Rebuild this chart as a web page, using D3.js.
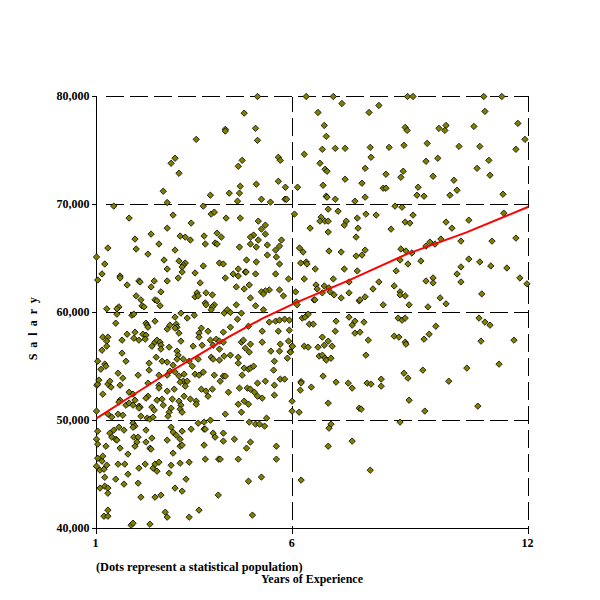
<!DOCTYPE html>
<html>
<head>
<meta charset="utf-8">
<script src="https://d3js.org/d3.v7.min.js"></script>
<style>
  body { margin: 0; background: #fff; }
  text { font-family: "Liberation Serif", serif; font-weight: bold; fill: #000; }
</style>
</head>
<body>
<svg id="chart" width="600" height="600"></svg>
<script>
// ---------------------------//
//      DATA                  //
// ---------------------------//

// [years of experience, salary]
const dotsUpperLeft = [
  [5.10,80000],[4.76,78460],[5.05,77050],[5.10,75940],[4.28,76960],[4.28,76800],[3.54,76030],[3.00,74280],[2.90,73820],[3.10,72890],
  [2.70,71230],[2.80,70180],[1.44,69850],[1.83,68740],[2.95,69020],[3.41,68280],[2.80,67810],[3.72,69850],[3.90,70860],[3.92,69110],
  [4.00,69290],[4.30,68740],[4.66,68740],[4.38,71050],[4.64,71050],[4.66,71690],[4.61,73540],[4.71,74090],[5.07,71880],[5.63,74370],
  [5.68,74090],[5.63,72150],[5.81,71600],[6.12,71600],[4.59,70310],[5.20,70490],[5.43,70220],[5.80,70490],[5.84,70490],[6.04,69110],
  [5.12,68460],[5.30,68090],[5.20,67720],[5.30,67260],[5.00,67170],[4.92,66980],[5.12,66710],[5.71,66710],[4.92,66340],[5.07,66060],
  [4.64,66060],[5.35,66250],[5.66,66150],[5.56,65780],[6.17,65970],[5.35,65320],[5.58,65140],[4.82,64860],[5.07,64680],[5.66,64490],
  [6.20,64580],[5.56,63570],[5.05,63570],[4.61,64030],[4.79,63750],[4.81,63750],[4.48,63570],[4.61,63380],[4.28,63200],[5.89,63110],
  [4.56,62370],[4.76,62180],[4.89,62550],[4.92,61350],[5.66,62090],[5.40,62090],[5.30,62000],[5.20,61910],[5.25,61720],[5.76,61540],
  [6.07,61910],[6.09,60980],[5.05,60620],[5.25,60250],[4.56,60710],[4.33,60250],[3.74,67080],[3.77,66340],[4.07,67350],[4.18,66980],
  [4.02,66430],[4.07,66340],[3.13,67080],[3.26,66980],[3.39,66710],[2.39,67260],[2.59,66340],[1.98,66800],[2.01,65880],[1.29,65970],
  [1.00,65140],[1.21,64490],[1.14,63570],[1.03,63010],[1.60,63380],[1.60,63200],[1.78,62550],[2.08,62920],[2.11,62830],[2.47,62920],
  [2.39,62370],[2.64,61910],[2.01,61540],[2.13,61170],[2.49,61170],[2.54,61080],[2.62,60620],[2.16,60620],[2.21,60520],[1.26,60340],
  [1.57,60520],[1.52,60340],[2.31,65410],[3.00,65780],[2.72,64860],[2.80,64030],[2.80,62920],[3.10,64770],[3.26,64580],[3.21,64400],
  [3.18,64210],[3.18,63750],[3.08,63200],[3.51,63660],[3.72,64310],[3.64,62740],[3.56,61820],[3.51,61450],[3.59,61540],[3.79,61820],
  [3.95,61630],[4.13,64580],[4.23,64490],[3.77,60890],[3.79,60710],[4.00,60710],[3.95,60520],[3.92,60250]
];

const dotsUpperRight = [
  [6.34,80000],[7.03,80000],[8.92,80000],[9.06,80000],[10.86,80000],[11.32,80000],[7.25,79350],[8.19,79170],[6.64,78520],[7.94,78520],
  [10.89,78620],[11.73,77510],[6.80,77320],[8.86,77140],[8.91,76860],[9.72,77050],[9.90,77320],[9.87,76860],[10.61,77230],[6.85,76310],
  [11.91,76030],[6.29,74650],[6.75,75110],[7.08,75200],[7.33,75200],[7.97,75290],[8.45,75290],[8.83,75480],[9.42,75660],[10.23,75380],
  [10.76,75380],[11.68,75110],[7.99,74370],[9.69,74280],[9.39,74000],[10.99,74090],[6.69,73820],[6.82,73260],[6.87,73080],[7.84,73350],
  [8.81,73080],[10.69,73350],[8.37,72800],[8.75,72520],[9.57,72610],[11.02,72710],[7.33,72340],[10.10,72250],[7.76,71970],[6.77,71780],
  [8.30,71510],[8.37,71510],[9.19,71600],[10.18,71320],[6.85,70770],[6.87,70680],[7.08,70490],[7.58,70310],[7.84,70680],[9.16,70860],
  [9.34,70770],[10.00,70860],[11.35,70950],[8.60,69850],[8.78,69750],[6.90,69570],[7.15,69380],[7.86,69110],[8.12,69020],[9.06,69020],
  [11.37,69200],[6.72,68830],[6.69,68460],[6.82,68460],[6.90,68460],[7.36,68460],[7.31,68090],[7.64,68740],[8.86,68370],[8.98,68280],
  [9.90,68370],[10.48,68550],[6.44,67810],[7.66,67810],[8.50,67720],[10.05,67810],[6.90,67450],[7.61,66980],[11.68,66890],[10.28,66610],
  [11.07,66610],[9.49,66520],[9.39,66150],[9.62,66340],[9.77,66800],[6.26,65600],[6.92,65690],[7.23,65600],[7.84,65780],[7.76,65320],
  [7.61,65230],[8.75,65880],[8.88,65690],[9.03,65510],[8.73,64860],[9.26,64770],[10.48,64950],[10.76,64680],[11.04,64310],[11.45,64120],
  [6.34,64680],[6.36,64490],[6.57,64030],[7.31,64030],[7.64,63850],[8.63,63850],[8.93,64490],[10.28,64220],[10.18,63570],[6.29,63110],
  [7.03,63110],[7.43,62830],[9.39,62920],[9.57,63200],[9.57,62740],[10.28,62830],[11.78,63200],[11.96,62650],[8.19,62830],[6.59,62550],
  [6.62,62180],[6.80,62460],[6.92,62280],[8.58,62460],[8.04,62180],[6.75,61820],[6.95,61910],[7.05,61630],[7.43,61820],[8.73,61910],
  [8.73,61630],[8.86,61540],[10.81,61720],[7.23,61350],[7.84,61450],[9.75,61350],[6.54,61170],[6.56,61170],[7.69,61080],[7.71,61170],
  [9.90,60800],[8.30,60710],[8.96,60710],[9.44,60520],[6.11,60710]
];

const dotsLowerRight = [
  [6.24,59480],[6.31,59570],[6.39,59850],[6.42,58920],[6.52,58920],[7.10,59200],[7.43,59570],[7.58,59200],[7.51,58830],[7.81,59110],
  [8.68,59480],[8.78,59290],[8.86,59480],[9.64,58730],[10.74,59480],[10.89,59110],[11.02,58830],[7.08,58270],[7.58,58090],[7.71,58180],
  [6.75,57720],[8.58,57810],[8.70,57720],[9.47,57990],[9.34,57530],[7.92,57440],[10.79,57350],[11.63,57440],[8.86,57250],[8.88,57070],
  [6.90,57350],[6.80,56970],[6.64,56790],[7.00,56880],[6.29,56880],[6.39,56790],[5.98,56880],[5.93,56360],[7.86,56050],[11.25,55220],
  [6.67,55960],[6.75,56050],[6.82,55770],[6.85,55590],[6.97,55770],[10.43,54850],[9.31,54660],[8.83,54380],[8.93,53920],[6.77,54110],
  [9.97,53640],[8.25,53830],[8.25,53180],[6.21,53600],[6.21,53480],[6.19,52810],[6.47,53090],[7.10,53550],[7.41,53460],[7.51,53000],
  [7.89,53460],[7.99,53370],[8.96,51880],[6.90,51610],[10.71,51330],[5.98,51790],[5.98,50870],[6.16,50770],[7.69,51140],[7.74,51050],
  [9.36,50870],[8.73,49850],[6.97,49660],[6.92,49290],[7.51,48090],[6.90,47620],[7.97,45400],[6.21,44480]
];

const dotsLowerLeft = [
  [1.52,59850],[1.90,59750],[1.95,59850],[3.00,59570],[3.15,59940],[3.31,59480],[3.49,59750],[4.25,59940],[4.41,60000],[4.69,59940],
  [1.49,59010],[2.26,59010],[2.29,58830],[2.31,58640],[2.49,59200],[2.80,58460],[2.87,58830],[3.03,58920],[3.05,58640],[3.00,58550],
  [1.78,57990],[1.98,58180],[2.18,57990],[2.26,57900],[1.95,57620],[2.08,57440],[2.24,57530],[1.16,57720],[1.29,57720],[1.26,57350],
  [1.26,56880],[1.14,56510],[1.65,57440],[1.65,56240],[1.75,55490],[1.03,55490],[1.21,55220],[1.24,55030],[1.11,54750],[2.41,56880],
  [2.49,57250],[2.54,57440],[2.62,57250],[2.64,56970],[2.64,56610],[2.52,55860],[2.67,55490],[2.80,55400],[2.85,56790],[3.10,58090],
  [3.15,57350],[3.05,56420],[3.08,56050],[3.05,55680],[3.21,55680],[2.95,55120],[3.46,56880],[3.67,58550],[3.61,58090],[3.61,57720],
  [3.84,58270],[3.69,56970],[3.90,57440],[4.05,57530],[3.97,56970],[4.13,57350],[4.23,57250],[4.23,58180],[4.41,58640],[4.59,59380],
  [4.87,58730],[5.22,58270],[5.22,57250],[4.69,57250],[4.74,57440],[4.92,57070],[4.79,56700],[4.89,56330],[4.13,56610],[3.92,55860],
  [3.97,55680],[4.13,55590],[4.25,55960],[4.41,56050],[4.61,55860],[4.61,55310],[4.71,54200],[4.76,54850],[4.87,54750],[4.92,54850],
  [5.00,55030],[5.40,59110],[5.56,59200],[5.66,59290],[5.79,59380],[5.91,59290],[5.63,58270],[5.91,58360],[5.89,57350],[5.99,56880],
  [5.68,57070],[5.44,56420],[5.66,56420],[5.94,56330],[5.86,55770],[5.53,55490],[5.51,54660],[5.53,53270],[5.53,52350],[5.68,53830],
  [5.79,53830],[5.30,53640],[5.10,53460],[4.84,53000],[4.92,52900],[5.02,52620],[5.10,52250],[5.22,52070],[4.64,53000],[4.36,52620],
  [3.95,52900],[3.67,52900],[3.79,52720],[3.84,52250],[4.76,51790],[4.87,51510],[4.61,51510],[4.69,50770],[4.28,50590],[5.33,50220],
  [3.51,54290],[3.61,54200],[3.72,54480],[4.00,54200],[4.15,53640],[4.23,54110],[4.28,54110],[3.44,55030],[3.36,55490],[3.59,55680],
  [3.23,54290],[3.10,54110],[3.00,54480],[2.87,54570],[2.80,54200],[2.59,54200],[3.21,53640],[3.31,53640],[3.13,53550],[3.26,53180],
  [2.98,52900],[2.80,52720],[2.59,53270],[2.59,53000],[2.31,53460],[2.34,55310],[2.34,54660],[2.06,54200],[1.55,54380],[1.67,53920],
  [1.60,53270],[1.29,53370],[1.34,53640],[1.37,53090],[1.01,53270],[1.03,53370],[1.06,53740],[1.16,52440],[1.83,52620],[1.93,52440],
  [1.60,51880],[1.57,51700],[1.98,51880],[1.75,51420],[1.83,51610],[1.93,51420],[2.08,51330],[2.11,51240],[2.08,51150],[2.31,52250],
  [2.26,52070],[2.54,51880],[2.67,51980],[2.70,51420],[2.90,51140],[2.85,50770],[2.82,50400],[2.93,51980],[3.10,51790],[3.15,51420],
  [3.13,51050],[3.18,50770],[3.23,52250],[3.39,51980],[3.54,51790],[3.54,51510],[2.41,51240],[2.47,50960],[2.13,50400],[2.29,50220],
  [2.36,50130],[2.44,50310],[1.00,50870],[1.29,50590],[1.39,50310],[1.55,50590],[1.67,50490],[1.03,49010],[1.00,48270],[1.03,47810],
  [1.24,47620],[1.03,46510],[1.14,46240],[1.16,46700],[1.00,45770],[1.09,45400],[1.19,45490],[1.26,45860],[1.21,44740],[1.09,43740],
  [1.21,43920],[1.29,43740],[1.29,43270],[1.49,44570],[1.70,44110],[1.55,45960],[1.72,45960],[1.80,45030],[1.60,47440],[1.80,46890],
  [1.44,49110],[1.34,48830],[1.39,48460],[1.49,48270],[1.52,48180],[1.57,49380],[1.70,49110],[1.93,49750],[1.98,49480],[1.93,49380],
  [1.95,48460],[2.06,48460],[2.03,48000],[1.98,47620],[2.26,49110],[2.41,48370],[2.26,48000],[2.36,47440],[2.39,47350],[2.08,45590],
  [2.24,45960],[2.44,45590],[2.49,45960],[2.59,46140],[2.54,45310],[2.06,44200],[2.13,42900],[2.49,42900],[2.64,43090],[2.85,45130],
  [2.90,45860],[2.95,46980],[2.80,48180],[2.90,49380],[2.95,48920],[3.03,48640],[3.13,48270],[3.13,47620],[3.18,47720],[3.18,49010],
  [3.41,49200],[3.59,49750],[3.74,49850],[3.74,49200],[3.77,49200],[3.90,50030],[3.97,48830],[4.02,48460],[3.74,47720],[3.77,46420],
  [4.23,48830],[4.23,48090],[4.51,48270],[4.11,46420],[4.15,46420],[4.61,46420],[4.82,47440],[4.92,48000],[4.89,49850],[5.05,49660],
  [5.15,49660],[5.28,49480],[5.58,47620],[5.58,46420],[5.20,44760],[4.87,44380],[3.13,46050],[3.36,46140],[3.28,44570],[3.00,43740],
  [3.18,43460],[4.10,43090],[4.97,41240],[3.61,41700],[3.36,41050],[2.75,41510],[2.80,41050],[2.36,40400],[1.88,40310],[1.93,40490],
  [1.19,41140],[1.29,41700],[1.29,41140]
];

// the red trend line
const trendYears = [1, 1.84, 2.69, 3.53, 4.38, 5.23, 6.08, 7.44, 8.9, 10.42, 12];
const trendSalary = [50200, 52150, 54120, 55910, 57760, 59460, 60910, 63000, 65410, 67420, 69790];

const xTicks = [1, 6, 12];
const yTicks = [40000, 50000, 60000, 70000, 80000];
const xGrid = [6, 12];
const yGrid = [50000, 60000, 70000, 80000];

// ---------------------------//
//          MAIN              //
// ---------------------------//

const svg = d3.select("#chart");
const x = d3.scaleLinear().domain([1, 12]).range([96.5, 528.5]);
const y = d3.scaleLinear().domain([40000, 80000]).range([528.5, 96.5]);

// dashed grid
svg.selectAll(".hgrid").data(yGrid).enter().append("line")
  .attr("class", "hgrid")
  .attr("x1", 106).attr("x2", x(12))
  .attr("y1", d => y(d)).attr("y2", d => y(d))
  .attr("stroke", "#000").attr("stroke-dasharray", "18 6")
  .attr("shape-rendering", "crispEdges");

svg.selectAll(".vgrid").data(xGrid).enter().append("line")
  .attr("class", "vgrid")
  .attr("x1", d => x(d)).attr("x2", d => x(d))
  .attr("y1", y(80000)).attr("y2", y(40000))
  .attr("stroke", "#000").attr("stroke-dasharray", "18 6").attr("stroke-dashoffset", 3)
  .attr("shape-rendering", "crispEdges");

// axes
const xAxis = svg.append("g")
  .attr("transform", "translate(0," + y(40000) + ")")
  .call(d3.axisBottom(x).tickValues(xTicks).tickFormat(d3.format("d")).tickSize(5).tickSizeOuter(0).offset(0));
const yAxis = svg.append("g")
  .attr("transform", "translate(" + x(1) + ",0)")
  .call(d3.axisLeft(y).tickValues(yTicks).tickFormat(d3.format(",")).tickSize(5).tickSizeOuter(0).offset(0));

[xAxis, yAxis].forEach(function(axis) {
  axis.attr("font-family", null).attr("font-size", null);
  axis.selectAll("path, line").attr("stroke", "#000").attr("shape-rendering", "crispEdges");
  axis.selectAll("text").style("font-size", "12px").attr("fill", "#000");
});
xAxis.selectAll("text").attr("y", 10).attr("x", -1);
yAxis.selectAll("text").attr("x", -7);

// dots
const dots = dotsUpperLeft.concat(dotsUpperRight, dotsLowerRight, dotsLowerLeft);
const diamond = d3.symbol().type(d3.symbolDiamond2).size(26);
svg.selectAll(".dot").data(dots).enter().append("path")
  .attr("class", "dot")
  .attr("d", diamond)
  .attr("transform", d => "translate(" + x(d[0]) + "," + y(d[1]) + ")")
  .attr("fill", "#808000")
  .attr("stroke", "#000")
  .attr("stroke-width", 0.8);

// trend line
const trendLine = d3.line()
  .x((d, i) => x(trendYears[i]))
  .y(d => y(d));
svg.append("path")
  .datum(trendSalary)
  .attr("d", trendLine)
  .attr("fill", "none")
  .attr("stroke", "#ff0000")
  .attr("stroke-width", 2);

// labels
svg.append("text").attr("x", 96).attr("y", 571)
  .style("font-size", "12.3px")
  .text("(Dots represent a statistical population)");
svg.append("text").attr("x", 261).attr("y", 583)
  .style("font-size", "12px")
  .text("Years of Experience");
svg.append("text")
  .attr("transform", "translate(37,328) rotate(-90)")
  .attr("text-anchor", "middle")
  .style("font-size", "12px")
  .text("S a l a r y")
  .style("letter-spacing", "1.5px");
</script>
</body>
</html>
